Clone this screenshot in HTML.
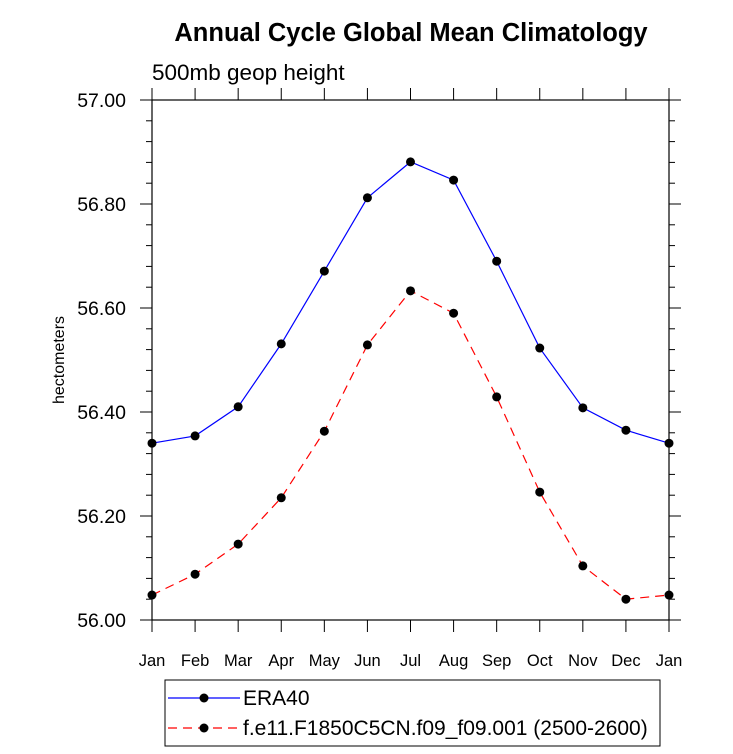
<!DOCTYPE html>
<html><head><meta charset="utf-8"><style>body{margin:0;background:#fff}svg{display:block}text{font-family:"Liberation Sans",sans-serif}</style></head>
<body>
<svg id="chart" width="733" height="754" xmlns="http://www.w3.org/2000/svg">
<text x="411" y="41" text-anchor="middle" font-size="25.5" font-weight="bold">Annual Cycle Global Mean Climatology</text>
<text x="152" y="80" font-size="22.5">500mb geop height</text>
<text transform="translate(64,360) rotate(-90)" text-anchor="middle" font-size="16">hectometers</text>
<g id="axes"></g><g id="series"></g>
<g>
<rect x="165" y="680" width="495" height="66" fill="none" stroke="#000" stroke-width="1"/>
<line x1="168" y1="698" x2="240" y2="698" stroke="#00f" stroke-width="1.2"/><circle cx="204" cy="698" r="4.5"/>
<text x="243" y="705" font-size="21">ERA40</text>
<line x1="168" y1="728" x2="240" y2="728" stroke="#f00" stroke-width="1.2" stroke-dasharray="9,6"/><circle cx="204" cy="728" r="4.5"/>
<text x="243" y="735" font-size="21">f.e11.F1850C5CN.f09_f09.001 (2500-2600)</text>
</g>
</svg>
<script>
const months=["Jan","Feb","Mar","Apr","May","Jun","Jul","Aug","Sep","Oct","Nov","Dec","Jan"];
const era40=[56.340,56.354,56.410,56.531,56.671,56.812,56.881,56.846,56.690,56.523,56.408,56.365,56.340];
const model=[56.048,56.088,56.146,56.235,56.363,56.529,56.633,56.590,56.429,56.246,56.104,56.040,56.048];
const yTicks=["56.00","56.20","56.40","56.60","56.80","57.00"];
const L=152,R=669,T=100,B=620,yMin=56,yMax=57;
const xs=i=>L+(R-L)*i/(months.length-1);
const ys=v=>B-(v-yMin)/(yMax-yMin)*(B-T);
const NS="http://www.w3.org/2000/svg";
function mk(tag,attrs,parent){const e=document.createElementNS(NS,tag);for(const k in attrs)e.setAttribute(k,attrs[k]);parent.appendChild(e);return e;}
const ax=document.getElementById('axes');
const box=mk('rect',{x:L,y:T,width:R-L,height:B-T,fill:'none',stroke:'#000','stroke-width':1.2},ax);


months.forEach((m,i)=>{const x=xs(i);
mk('line',{x1:x,x2:x,y1:B,y2:B+12,stroke:'#000'},ax);
mk('line',{x1:x,x2:x,y1:T,y2:T-12,stroke:'#000'},ax);
const t=mk('text',{x:x,y:B+46,'text-anchor':'middle','font-size':16.5},ax);t.textContent=m;

});
for(let k=0;k<=25;k++){const v=yMin+k*0.04,y=ys(v),maj=k%5===0,len=maj?12:6;
mk('line',{x1:L-len,x2:L,y1:y,y2:y,stroke:'#000'},ax);
mk('line',{x1:R,x2:R+len,y1:y,y2:y,stroke:'#000'},ax);}
yTicks.forEach(s=>{const t=mk('text',{x:L-26,y:ys(parseFloat(s))+7,'text-anchor':'end','font-size':19.5},ax);t.textContent=s;

});
const sg=document.getElementById('series');
function series(vals,color,dash,name){
const p=mk('polyline',{points:vals.map((v,i)=>xs(i)+','+ys(v)).join(' '),fill:'none',stroke:color,'stroke-width':1.2,'stroke-dasharray':dash},sg);


vals.forEach((v,i)=>{const c=mk('circle',{cx:xs(i),cy:ys(v),r:4.5,fill:'#000'},sg);

});}
series(era40,'#00f','none','era40');
series(model,'#f00','9,6','model');
</script>
</body></html>
